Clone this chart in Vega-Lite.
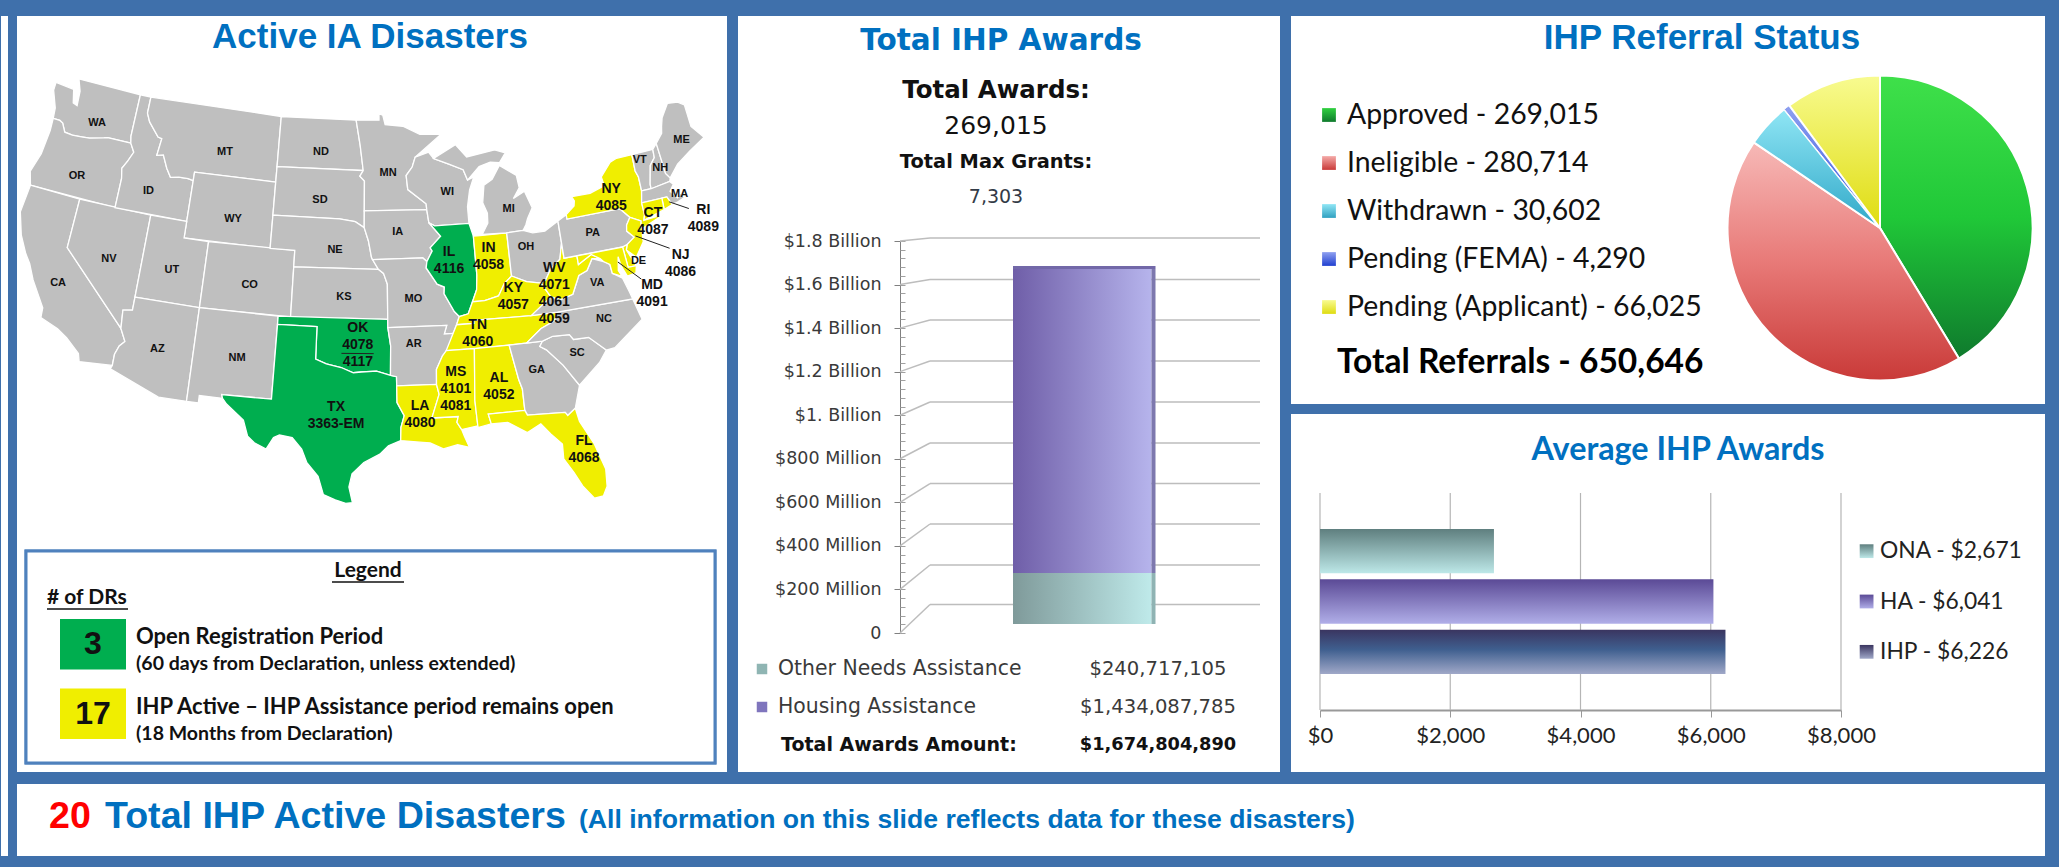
{"$schema":"https://vega.github.io/schema/vega-lite/v6.json","background":"#3f70ab","padding":{"left":0,"top":15,"right":15,"bottom":12},"autosize":{"type":"pad"},"config":{"view":{"stroke":null},"font":"Liberation Sans"},"datasets":{"grid":[{"amount":0,"wall":130900000},{"amount":200000000,"wall":312200000},{"amount":400000000,"wall":500500000},{"amount":600000000,"wall":686000000},{"amount":800000000,"wall":872400000},{"amount":1000000000,"wall":1060700000},{"amount":1200000000,"wall":1249000000},{"amount":1400000000,"wall":1437200000},{"amount":1600000000,"wall":1622800000},{"amount":1800000000,"wall":1813800000}],"awards":[{"assistance":"Other Needs Assistance","start":0,"end":240717105},{"assistance":"Housing Assistance","start":240717105,"end":1674804890}],"avg":[{"award":"ONA","amount":2671,"label":"ONA - $2,671"},{"award":"HA","amount":6041,"label":"HA - $6,041"},{"award":"IHP","amount":6226,"label":"IHP - $6,226"}],"referrals":[{"status":"Approved","referrals":269015,"label":"Approved - 269,015"},{"status":"Ineligible","referrals":280714,"label":"Ineligible - 280,714"},{"status":"Withdrawn","referrals":30602,"label":"Withdrawn - 30,602"},{"status":"Pending (FEMA)","referrals":4290,"label":"Pending (FEMA) - 4,290"},{"status":"Pending (Applicant)","referrals":66025,"label":"Pending (Applicant) - 66,025"}]},"spacing":9,"resolve":{"scale":{"color":"independent","size":"independent"}},"hconcat":[
{"width":7,"height":840,"view":{"fill":"white","stroke":null},"data":{"values":[{"e":0}]},"mark":{"type":"rule","opacity":0},"encoding":{}},
{"spacing":12,"resolve":{"scale":{"color":"independent","size":"independent"}},"vconcat":[{"spacing":11,"resolve":{"scale":{"color":"independent","size":"independent"}},"hconcat":[
{"spacing":0,"bounds":"flush","resolve":{"scale":{"color":"independent","size":"independent"}},"vconcat":[
{"width":710,"height":60,"view":{"fill":"white","stroke":null},"data":{"values":[{"t":"Active IA Disasters"}]},"mark":{"type":"text","font":"Liberation Sans","fontWeight":"bold","fontSize":35,"color":"#0070c0","dx":-2,"dy":-9},"encoding":{"text":{"field":"t"}}},
{"width":710,"height":465,"view":{"fill":"white","stroke":null},"projection":{"type":"albers","scale":948,"translate":[345,215]},"layer":[
{"data":{"values":[
{"type":"Feature","properties":{"id":"WA","status":"None"},"geometry":{"type":"Polygon","coordinates":[[[-124.7,48.4],[-123,48.3],[-122.7,47.5],[-122.3,47.4],[-122.4,48.3],[-122.8,49],[-117.03,49],[-117.04,46.42],[-116.92,46],[-118.98,46],[-119.3,45.93],[-120.5,45.7],[-121.2,45.65],[-122,45.6],[-122.7,45.65],[-123.1,46.15],[-123.4,46.25],[-124,46.25],[-124.1,46.9],[-124.7,47.9],[-124.7,48.4]]]}},
{"type":"Feature","properties":{"id":"OR","status":"None"},"geometry":{"type":"Polygon","coordinates":[[[-124,46.25],[-123.4,46.25],[-123.1,46.15],[-122.7,45.65],[-122,45.6],[-121.2,45.65],[-120.5,45.7],[-119.3,45.93],[-118.98,46],[-116.92,46],[-116.5,45.5],[-116.85,44.9],[-117.2,44.4],[-117.03,43.8],[-117.03,42],[-124.2,42],[-124.55,42.8],[-124.1,44],[-123.95,45.5],[-124,46.25]]]}},
{"type":"Feature","properties":{"id":"CA","status":"None"},"geometry":{"type":"Polygon","coordinates":[[[-124.2,42],[-120,42],[-120,39],[-114.63,35],[-114.15,34.27],[-114.5,33.95],[-114.72,33.4],[-114.72,32.72],[-117.12,32.53],[-117.3,33],[-118.4,33.75],[-119.2,34.15],[-120.6,34.55],[-120.65,35.15],[-121.9,36.6],[-122.5,37.5],[-123,38],[-123.75,39],[-124.35,40.3],[-124.2,42]]]}},
{"type":"Feature","properties":{"id":"NV","status":"None"},"geometry":{"type":"Polygon","coordinates":[[[-120,42],[-114.04,42],[-114.04,36.2],[-114.75,36.1],[-114.63,35],[-120,39],[-120,42]]]}},
{"type":"Feature","properties":{"id":"ID","status":"None"},"geometry":{"type":"Polygon","coordinates":[[[-117.03,49],[-116.05,49],[-116.05,48],[-115.7,47.5],[-114.7,46.7],[-114.35,46.65],[-114.5,45.6],[-113.95,45.7],[-113.45,44.95],[-113,44.45],[-112.3,44.55],[-111.5,44.55],[-111.05,44.48],[-111.05,42],[-117.03,42],[-117.03,43.8],[-117.2,44.4],[-116.85,44.9],[-116.5,45.5],[-116.92,46],[-117.04,46.42],[-117.03,49]]]}},
{"type":"Feature","properties":{"id":"MT","status":"None"},"geometry":{"type":"Polygon","coordinates":[[[-116.05,49],[-104.05,49],[-104.05,45],[-111.05,45],[-111.05,44.48],[-111.5,44.55],[-112.3,44.55],[-113,44.45],[-113.45,44.95],[-113.95,45.7],[-114.5,45.6],[-114.35,46.65],[-114.7,46.7],[-115.7,47.5],[-116.05,48],[-116.05,49]]]}},
{"type":"Feature","properties":{"id":"WY","status":"None"},"geometry":{"type":"Polygon","coordinates":[[[-111.05,45],[-104.05,45],[-104.05,41],[-111.05,41],[-111.05,45]]]}},
{"type":"Feature","properties":{"id":"UT","status":"None"},"geometry":{"type":"Polygon","coordinates":[[[-114.04,42],[-111.05,42],[-111.05,41],[-109.05,41],[-109.05,37],[-114.04,37],[-114.04,42]]]}},
{"type":"Feature","properties":{"id":"CO","status":"None"},"geometry":{"type":"Polygon","coordinates":[[[-109.05,41],[-102.05,41],[-102.05,37],[-109.05,37],[-109.05,41]]]}},
{"type":"Feature","properties":{"id":"AZ","status":"None"},"geometry":{"type":"Polygon","coordinates":[[[-114.04,37],[-109.05,37],[-109.05,31.33],[-111.07,31.33],[-114.81,32.5],[-114.72,32.72],[-114.72,33.4],[-114.5,33.95],[-114.15,34.27],[-114.63,35],[-114.75,36.1],[-114.04,36.2],[-114.04,37]]]}},
{"type":"Feature","properties":{"id":"NM","status":"None"},"geometry":{"type":"Polygon","coordinates":[[[-109.05,37],[-103,37],[-103.04,32],[-106.62,32],[-106.53,31.78],[-108.2,31.78],[-108.2,31.33],[-109.05,31.33],[-109.05,37]]]}},
{"type":"Feature","properties":{"id":"ND","status":"None"},"geometry":{"type":"Polygon","coordinates":[[[-104.05,49],[-97.23,49],[-96.85,47.5],[-96.56,45.94],[-104.05,45.94],[-104.05,49]]]}},
{"type":"Feature","properties":{"id":"SD","status":"None"},"geometry":{"type":"Polygon","coordinates":[[[-104.05,45.94],[-96.56,45.94],[-96.85,45.6],[-96.45,45.3],[-96.45,43.5],[-96.45,42.5],[-97.2,42.85],[-98.5,43],[-104.05,43],[-104.05,45.94]]]}},
{"type":"Feature","properties":{"id":"NE","status":"None"},"geometry":{"type":"Polygon","coordinates":[[[-104.05,43],[-98.5,43],[-97.2,42.85],[-96.45,42.5],[-96.1,41.7],[-95.85,40.7],[-95.31,40],[-102.05,40],[-102.05,41],[-104.05,41],[-104.05,43]]]}},
{"type":"Feature","properties":{"id":"KS","status":"None"},"geometry":{"type":"Polygon","coordinates":[[[-102.05,40],[-95.31,40],[-94.9,39.75],[-94.61,39.1],[-94.62,37],[-102.05,37],[-102.05,40]]]}},
{"type":"Feature","properties":{"id":"OK","status":"Open Registration Period"},"geometry":{"type":"Polygon","coordinates":[[[-103,37],[-94.62,37],[-94.62,36.5],[-94.43,35.4],[-94.48,33.64],[-95.5,33.9],[-96.6,33.85],[-97.2,33.8],[-98.1,34.1],[-99.2,34.3],[-100,34.56],[-100,36.5],[-103,36.5],[-103,37]]]}},
{"type":"Feature","properties":{"id":"TX","status":"Open Registration Period"},"geometry":{"type":"Polygon","coordinates":[[[-106.62,32],[-103.04,32],[-103,36.5],[-100,36.5],[-100,34.56],[-99.2,34.3],[-98.1,34.1],[-97.2,33.8],[-96.6,33.85],[-95.5,33.9],[-94.48,33.64],[-94.04,33.55],[-94.04,33],[-94.04,32],[-93.55,31.2],[-93.8,30.5],[-93.84,29.7],[-94.7,29.4],[-95.3,28.9],[-96.4,28.4],[-97.2,27.7],[-97.4,26.9],[-97.15,25.95],[-97.6,25.9],[-98.3,26.1],[-99.1,26.4],[-99.5,27.5],[-100.3,28.3],[-100.7,29.1],[-101.4,29.77],[-102.3,29.88],[-102.7,29.7],[-103.15,28.98],[-104,29.3],[-104.5,29.65],[-104.9,30.6],[-106.2,31.46],[-106.53,31.78],[-106.62,32]]]}},
{"type":"Feature","properties":{"id":"MN","status":"None"},"geometry":{"type":"Polygon","coordinates":[[[-97.23,49],[-95.15,49],[-95.15,49.38],[-94.8,49.3],[-94.6,48.72],[-93,48.6],[-91.5,48.07],[-89.6,48],[-92,46.7],[-92.3,46.1],[-92.85,45.6],[-92.75,44.75],[-91.25,43.85],[-91.22,43.5],[-96.45,43.5],[-96.45,45.3],[-96.85,45.6],[-96.56,45.94],[-96.85,47.5],[-97.23,49]]]}},
{"type":"Feature","properties":{"id":"IA","status":"None"},"geometry":{"type":"Polygon","coordinates":[[[-96.45,43.5],[-91.22,43.5],[-91.1,42.7],[-90.2,41.85],[-91.1,41.2],[-90.95,41],[-91.42,40.38],[-91.73,40.61],[-95.77,40.58],[-95.85,40.7],[-96.1,41.7],[-96.45,42.5],[-96.45,43.5]]]}},
{"type":"Feature","properties":{"id":"MO","status":"None"},"geometry":{"type":"Polygon","coordinates":[[[-95.77,40.58],[-91.73,40.61],[-91.42,40.38],[-91.5,40],[-90.7,39],[-90.15,38.8],[-90.2,38.4],[-89.5,37.3],[-89.15,36.98],[-89.4,36.5],[-89.7,36],[-90.37,36],[-90.15,36.5],[-94.62,36.5],[-94.62,37],[-94.61,39.1],[-94.9,39.75],[-95.31,40],[-95.77,40.58]]]}},
{"type":"Feature","properties":{"id":"AR","status":"None"},"geometry":{"type":"Polygon","coordinates":[[[-94.62,36.5],[-90.15,36.5],[-90.37,36],[-89.7,36],[-90.1,35.1],[-90.6,34.7],[-91.1,33.9],[-91.15,33],[-94.04,33],[-94.04,33.55],[-94.48,33.64],[-94.43,35.4],[-94.62,36.5]]]}},
{"type":"Feature","properties":{"id":"LA","status":"IHP Active"},"geometry":{"type":"Polygon","coordinates":[[[-94.04,33],[-91.15,33],[-91,32.4],[-91.6,31],[-89.73,31],[-89.85,30.65],[-89.55,30.2],[-89.4,29.8],[-89.1,29.1],[-89.9,29.3],[-90.9,29.1],[-91.8,29.5],[-92.3,29.55],[-93.84,29.7],[-93.8,30.5],[-93.55,31.2],[-94.04,32],[-94.04,33]]]}},
{"type":"Feature","properties":{"id":"WI","status":"None"},"geometry":{"type":"Polygon","coordinates":[[[-92,46.7],[-90.8,46.95],[-90.4,46.55],[-89.1,46.15],[-87.9,45.75],[-87.6,45.1],[-87.05,45.25],[-87.5,44.5],[-87.8,43.5],[-87.8,42.5],[-90.64,42.5],[-91.1,42.7],[-91.22,43.5],[-91.25,43.85],[-92.75,44.75],[-92.85,45.6],[-92.3,46.1],[-92,46.7]]]}},
{"type":"Feature","properties":{"id":"IL","status":"Open Registration Period"},"geometry":{"type":"Polygon","coordinates":[[[-90.64,42.5],[-87.8,42.5],[-87.53,41.72],[-87.53,39.35],[-87.65,38.5],[-88.05,37.8],[-88.45,37.1],[-89.15,36.98],[-89.5,37.3],[-90.2,38.4],[-90.15,38.8],[-90.7,39],[-91.5,40],[-91.42,40.38],[-90.95,41],[-91.1,41.2],[-90.2,41.85],[-91.1,42.7],[-90.64,42.5]]]}},
{"type":"Feature","properties":{"id":"IN","status":"IHP Active"},"geometry":{"type":"Polygon","coordinates":[[[-87.53,41.72],[-87,41.7],[-84.8,41.7],[-84.82,39.1],[-85.45,38.7],[-86,38],[-87.1,37.8],[-88.05,37.8],[-87.65,38.5],[-87.53,39.35],[-87.53,41.72]]]}},
{"type":"Feature","properties":{"id":"MI","status":"None"},"geometry":{"type":"MultiPolygon","coordinates":[[[[-86.25,44.7],[-85.5,45],[-84.75,45.78],[-83.4,45.05],[-83.3,44.3],[-83.9,43.7],[-82.9,44.05],[-82.45,43],[-82.95,42.4],[-83.15,42.05],[-83.45,41.72],[-84.8,41.7],[-86.8,41.76],[-86.25,42.4],[-86.2,43],[-86.5,43.65],[-86.25,44.7]]],[[[-90.4,46.55],[-88.4,47.3],[-87.5,46.5],[-85,46.75],[-84.1,46.5],[-84.7,45.95],[-85.5,46.05],[-86.5,45.85],[-87.6,45.1],[-87.9,45.75],[-89.1,46.15],[-90.4,46.55]]]]}},
{"type":"Feature","properties":{"id":"OH","status":"None"},"geometry":{"type":"Polygon","coordinates":[[[-84.8,41.7],[-83.45,41.72],[-82.7,41.5],[-81.7,41.5],[-80.52,41.98],[-80.52,40.64],[-80.85,39.7],[-81.7,39.2],[-82.2,38.6],[-82.6,38.45],[-83.7,38.65],[-84.82,39.1],[-84.8,41.7]]]}},
{"type":"Feature","properties":{"id":"KY","status":"IHP Active"},"geometry":{"type":"Polygon","coordinates":[[[-84.82,39.1],[-83.7,38.65],[-82.6,38.45],[-82,37.55],[-83.68,36.6],[-88.07,36.68],[-88.07,36.5],[-89.4,36.5],[-89.15,36.98],[-88.45,37.1],[-88.05,37.8],[-87.1,37.8],[-86,38],[-85.45,38.7],[-84.82,39.1]]]}},
{"type":"Feature","properties":{"id":"TN","status":"IHP Active"},"geometry":{"type":"Polygon","coordinates":[[[-89.4,36.5],[-88.07,36.5],[-88.07,36.68],[-83.68,36.6],[-81.68,36.59],[-82,36.1],[-83.1,35.75],[-84.3,35],[-88.2,35],[-90.3,35],[-89.7,36],[-89.4,36.5]]]}},
{"type":"Feature","properties":{"id":"MS","status":"IHP Active"},"geometry":{"type":"Polygon","coordinates":[[[-90.3,35],[-88.2,35],[-88.47,31.9],[-88.4,30.35],[-89.55,30.2],[-89.85,30.65],[-89.73,31],[-91.6,31],[-91,32.4],[-91.15,33],[-91.1,33.9],[-90.6,34.7],[-90.3,35]]]}},
{"type":"Feature","properties":{"id":"AL","status":"IHP Active"},"geometry":{"type":"Polygon","coordinates":[[[-88.2,35],[-85.6,35],[-85.18,32.87],[-85,32.3],[-85,31],[-87.6,31],[-87.45,30.4],[-88.4,30.25],[-88.47,31.9],[-88.2,35]]]}},
{"type":"Feature","properties":{"id":"GA","status":"None"},"geometry":{"type":"Polygon","coordinates":[[[-85.6,35],[-83.1,35],[-83.35,34.7],[-82.9,34.45],[-81.85,33.4],[-80.9,32.05],[-81.45,30.72],[-82.05,30.36],[-82.2,30.57],[-84.86,30.7],[-85,31],[-85,32.3],[-85.18,32.87],[-85.6,35]]]}},
{"type":"Feature","properties":{"id":"FL","status":"IHP Active"},"geometry":{"type":"Polygon","coordinates":[[[-87.6,31],[-85,31],[-84.86,30.7],[-82.2,30.57],[-82.05,30.36],[-81.45,30.72],[-81.3,29.9],[-80.55,28.45],[-80.05,26.8],[-80.15,25.75],[-80.5,25.2],[-81.1,25.15],[-81.75,26],[-82.2,26.9],[-82.75,27.8],[-82.7,28.7],[-83.4,29.4],[-84,30.08],[-85,29.65],[-85.6,30],[-86.3,30.4],[-87.45,30.4],[-87.6,31]]]}},
{"type":"Feature","properties":{"id":"SC","status":"None"},"geometry":{"type":"Polygon","coordinates":[[[-83.1,35],[-82.3,35.2],[-81.05,35.15],[-80.8,34.82],[-79.67,34.8],[-78.55,33.86],[-79.2,33.2],[-80.9,32.05],[-81.85,33.4],[-82.9,34.45],[-83.35,34.7],[-83.1,35]]]}},
{"type":"Feature","properties":{"id":"NC","status":"None"},"geometry":{"type":"Polygon","coordinates":[[[-81.68,36.59],[-75.87,36.55],[-75.5,35.25],[-76.5,34.7],[-77.9,33.9],[-78.55,33.86],[-79.67,34.8],[-80.8,34.82],[-81.05,35.15],[-82.3,35.2],[-83.1,35],[-84.3,35],[-83.1,35.75],[-82,36.1],[-81.68,36.59]]]}},
{"type":"Feature","properties":{"id":"VA","status":"None"},"geometry":{"type":"Polygon","coordinates":[[[-83.68,36.6],[-82,37.55],[-81.3,37.3],[-80.3,37.5],[-79.6,38.55],[-78.9,38.75],[-78.35,39.4],[-77.5,39.1],[-77.05,38.85],[-77,38.3],[-76.3,37.9],[-76,37],[-75.87,36.55],[-81.68,36.59],[-83.68,36.6]]]}},
{"type":"Feature","properties":{"id":"WV","status":"IHP Active"},"geometry":{"type":"Polygon","coordinates":[[[-80.52,40.64],[-80.52,39.72],[-79.48,39.72],[-79.48,39.2],[-78.35,39.65],[-77.72,39.32],[-78.35,39.4],[-78.9,38.75],[-79.6,38.55],[-80.3,37.5],[-81.3,37.3],[-82,37.55],[-82.6,38.45],[-82.2,38.6],[-81.7,39.2],[-80.85,39.7],[-80.52,40.64]]]}},
{"type":"Feature","properties":{"id":"PA","status":"None"},"geometry":{"type":"Polygon","coordinates":[[[-80.52,41.98],[-79.76,42.27],[-79.76,42],[-75.35,42],[-74.7,41.36],[-75.1,40.95],[-75.2,40.6],[-74.72,40.15],[-75.4,39.8],[-75.79,39.72],[-80.52,39.72],[-80.52,40.64],[-80.52,41.98]]]}},
{"type":"Feature","properties":{"id":"NY","status":"IHP Active"},"geometry":{"type":"Polygon","coordinates":[[[-79.76,42.27],[-79,42.7],[-78.9,43],[-79.05,43.27],[-77.5,43.27],[-76.2,43.55],[-76.3,44.1],[-75.3,44.85],[-74.7,45],[-73.35,45],[-73.4,44],[-73.25,43.6],[-73.27,42.75],[-73.5,42.05],[-73.5,41.3],[-73.65,41],[-72,41.05],[-73.9,40.55],[-74,40.7],[-73.9,41],[-74.7,41.36],[-75.35,42],[-79.76,42],[-79.76,42.27]]]}},
{"type":"Feature","properties":{"id":"VT","status":"None"},"geometry":{"type":"Polygon","coordinates":[[[-73.35,45],[-71.5,45],[-71.55,44.5],[-72.05,44.1],[-72.45,43],[-72.46,42.73],[-73.27,42.75],[-73.25,43.6],[-73.4,44],[-73.35,45]]]}},
{"type":"Feature","properties":{"id":"NH","status":"None"},"geometry":{"type":"Polygon","coordinates":[[[-71.5,45],[-71.08,45.3],[-70.98,43.4],[-70.7,43.07],[-70.82,42.87],[-72.46,42.73],[-72.45,43],[-72.05,44.1],[-71.55,44.5],[-71.5,45]]]}},
{"type":"Feature","properties":{"id":"ME","status":"None"},"geometry":{"type":"Polygon","coordinates":[[[-71.08,45.3],[-70.4,45.8],[-70.25,46.2],[-70,46.7],[-69.2,47.45],[-68.3,47.35],[-67.8,47.07],[-67.8,45.7],[-67,44.85],[-68.5,44.3],[-69.8,43.75],[-70.7,43.07],[-70.98,43.4],[-71.08,45.3]]]}},
{"type":"Feature","properties":{"id":"MA","status":"None"},"geometry":{"type":"Polygon","coordinates":[[[-73.27,42.75],[-72.46,42.73],[-70.82,42.87],[-70.6,42.65],[-71,42.3],[-70.55,41.8],[-70.2,42.05],[-70,41.7],[-70.65,41.55],[-71.12,41.5],[-71.38,42.02],[-71.8,42.02],[-73.5,42.05],[-73.27,42.75]]]}},
{"type":"Feature","properties":{"id":"RI","status":"IHP Active"},"geometry":{"type":"Polygon","coordinates":[[[-71.8,42.02],[-71.38,42.02],[-71.12,41.5],[-71.85,41.32],[-71.8,42.02]]]}},
{"type":"Feature","properties":{"id":"CT","status":"IHP Active"},"geometry":{"type":"Polygon","coordinates":[[[-73.5,42.05],[-71.8,42.02],[-71.85,41.32],[-73.65,41],[-73.5,41.3],[-73.5,42.05]]]}},
{"type":"Feature","properties":{"id":"NJ","status":"IHP Active"},"geometry":{"type":"Polygon","coordinates":[[[-74.7,41.36],[-73.9,41],[-74,40.7],[-74,40.45],[-74.1,39.75],[-74.9,38.95],[-75.55,39.5],[-75.4,39.8],[-74.72,40.15],[-75.2,40.6],[-75.1,40.95],[-74.7,41.36]]]}},
{"type":"Feature","properties":{"id":"DE","status":"IHP Active"},"geometry":{"type":"Polygon","coordinates":[[[-75.79,39.72],[-75.4,39.8],[-75.55,39.5],[-75.05,38.45],[-75.7,38.46],[-75.79,39.72]]]}},
{"type":"Feature","properties":{"id":"MD","status":"IHP Active"},"geometry":{"type":"Polygon","coordinates":[[[-79.48,39.72],[-75.79,39.72],[-75.7,38.46],[-75.05,38.45],[-75.2,38.03],[-75.9,37.95],[-76.2,38.6],[-76.3,39.2],[-76.5,38.4],[-76.3,38],[-77,38.3],[-77.05,38.85],[-77.5,39.1],[-77.72,39.32],[-78.35,39.65],[-79.48,39.2],[-79.48,39.72]]]}}
]},"mark":{"type":"geoshape","stroke":"white","strokeWidth":1.3},"encoding":{"color":{"field":"properties.status","type":"nominal","scale":{"domain":["None","Open Registration Period","IHP Active"],"range":["#bfbfbf","#00ae4f","#f0ee00"]},"legend":null}}},
{"data":{"values":[{"a":-71.3,"b":41.7,"c":-69.9,"d":41.0},{"a":-74.6,"b":40.2,"c":-72.2,"d":39.0},{"a":-76.4,"b":38.9,"c":-74.9,"d":37.6},{"a":-98.1,"b":34.95,"c":-95.7,"d":34.95}]},"mark":{"type":"rule","color":"#222222","strokeWidth":1},"encoding":{"longitude":{"field":"a","type":"quantitative"},"latitude":{"field":"b","type":"quantitative"},"longitude2":{"field":"c"},"latitude2":{"field":"d"}}},
{"data":{"values":[
{"t":"WA","lon":-120.2,"lat":46.7,"k":"p"},{"t":"OR","lon":-120.7,"lat":43.3,"k":"p"},{"t":"CA","lon":-120,"lat":36.8,"k":"p"},{"t":"NV","lon":-116.6,"lat":38.9,"k":"p"},{"t":"ID","lon":-114.6,"lat":43.4,"k":"p"},{"t":"MT","lon":-108.7,"lat":46.5,"k":"p"},{"t":"WY","lon":-107.3,"lat":42.5,"k":"p"},{"t":"UT","lon":-111.6,"lat":39,"k":"p"},{"t":"CO","lon":-105.4,"lat":38.7,"k":"p"},{"t":"AZ","lon":-111.7,"lat":34.2,"k":"p"},{"t":"NM","lon":-105.8,"lat":34.3,"k":"p"},{"t":"ND","lon":-100.3,"lat":47,"k":"p"},{"t":"SD","lon":-100.2,"lat":44.1,"k":"p"},{"t":"NE","lon":-98.8,"lat":41.1,"k":"p"},{"t":"KS","lon":-98,"lat":38.3,"k":"p"},{"t":"MN","lon":-94.4,"lat":45.8,"k":"p"},{"t":"IA","lon":-93.7,"lat":42.2,"k":"p"},{"t":"MO","lon":-92.6,"lat":38.2,"k":"p"},{"t":"AR","lon":-92.7,"lat":35.5,"k":"p"},{"t":"WI","lon":-89.4,"lat":44.5,"k":"p"},{"t":"MI","lon":-84.4,"lat":43.1,"k":"p"},{"t":"OH","lon":-83.4,"lat":40.7,"k":"p"},{"t":"GA","lon":-83.8,"lat":33.3,"k":"p"},{"t":"SC","lon":-80.7,"lat":34,"k":"p"},{"t":"NC","lon":-78.3,"lat":35.7,"k":"p"},{"t":"VA","lon":-78.3,"lat":37.9,"k":"p"},{"t":"PA","lon":-77.9,"lat":40.9,"k":"p"},{"t":"ME","lon":-68.9,"lat":45.1,"k":"p"},{"t":"VT","lon":-72.8,"lat":44.6,"k":"p"},{"t":"NH","lon":-71.3,"lat":43.8,"k":"p"},{"t":"MA","lon":-70.3,"lat":42,"k":"p"},{"t":"DE","lon":-74.8,"lat":38.7,"k":"p"},
{"t":"OK\n4078\n4117","lon":-96.9,"lat":36.5,"k":"a"},{"t":"TX\n3363-EM","lon":-98.4,"lat":31.7,"k":"a"},{"t":"LA\n4080","lon":-92.4,"lat":31.75,"k":"a"},{"t":"IL\n4116","lon":-89.6,"lat":40.85,"k":"a"},{"t":"IN\n4058","lon":-86.4,"lat":40.9,"k":"a"},{"t":"KY\n4057","lon":-84.8,"lat":38.35,"k":"a"},{"t":"TN\n4060","lon":-87.8,"lat":36.4,"k":"a"},{"t":"MS\n4101\n4081","lon":-89.7,"lat":33.65,"k":"a"},{"t":"AL\n4052","lon":-86.6,"lat":33.1,"k":"a"},{"t":"FL\n4068","lon":-81.2,"lat":28.7,"k":"a"},{"t":"WV\n4071\n4061\n4059","lon":-81.4,"lat":39.25,"k":"a"},{"t":"NY\n4085","lon":-75.7,"lat":43.25,"k":"a"},{"t":"CT\n4087","lon":-72.8,"lat":41.3,"k":"a"},{"t":"NJ\n4086","lon":-71.5,"lat":38.45,"k":"a"},{"t":"MD\n4091","lon":-74.2,"lat":37.1,"k":"a"},{"t":"RI\n4089","lon":-68.8,"lat":40.7,"k":"a"}
]},"mark":{"type":"text","font":"Liberation Sans","fontWeight":"bold","lineBreak":"\n","lineHeight":17,"color":"#111111"},"encoding":{"longitude":{"field":"lon","type":"quantitative"},"latitude":{"field":"lat","type":"quantitative"},"text":{"field":"t"},"size":{"field":"k","type":"nominal","scale":{"domain":["p","a"],"range":[11,14]},"legend":null}}}
]},
{"width":710,"height":231,"view":{"fill":"white","stroke":null},"resolve":{"scale":{"y":"independent"}},"data":{"values":[{"period":"Open Registration Period","dr":"3","note":"(60 days from Declaration, unless extended)"},{"period":"IHP Active – IHP Assistance period remains open","dr":"17","note":"(18 Months from Declaration)"}]},"layer":[
{"mark":{"type":"rect","fill":"white","stroke":"#4f81bd","strokeWidth":3},"encoding":{"x":{"datum":10,"type":"quantitative","scale":{"domain":[0,711],"range":[-1,710],"nice":false},"axis":null},"x2":{"datum":699},"y":{"datum":10,"type":"quantitative","scale":{"domain":[0,231],"range":[0,231],"nice":false},"axis":null},"y2":{"datum":222}}},
{"mark":{"type":"rect"},"encoding":{"x":{"datum":44,"type":"quantitative","axis":null},"x2":{"datum":110},"y":{"field":"period","type":"nominal","sort":null,"scale":{"type":"band","range":[78,198],"paddingInner":0.273,"paddingOuter":0},"axis":null},"color":{"field":"period","type":"nominal","sort":null,"scale":{"range":["#00ae4f","#f0ee00"]},"legend":null}}},
{"mark":{"type":"text","font":"Liberation Sans","fontWeight":"bold","fontSize":32,"color":"#111111"},"encoding":{"x":{"datum":77,"type":"quantitative","axis":null},"y":{"field":"period","type":"nominal","sort":null,"scale":{"type":"band","range":[78,198],"paddingInner":0.273,"paddingOuter":0},"axis":null},"text":{"field":"dr"}}},
{"mark":{"type":"text","font":"Lato","fontWeight":"bold","fontSize":22,"align":"left","dy":-7,"color":"#111111"},"encoding":{"x":{"datum":120,"type":"quantitative","axis":null},"y":{"field":"period","type":"nominal","sort":null,"scale":{"type":"band","range":[78,198],"paddingInner":0.273,"paddingOuter":0},"axis":null},"text":{"field":"period"}}},
{"mark":{"type":"text","font":"Lato","fontWeight":"bold","fontSize":19.5,"align":"left","dy":20,"color":"#111111"},"encoding":{"x":{"datum":120,"type":"quantitative","axis":null},"y":{"field":"period","type":"nominal","sort":null,"scale":{"type":"band","range":[78,198],"paddingInner":0.273,"paddingOuter":0},"axis":null},"text":{"field":"note"}}},
{"data":{"values":[{"h":"Legend"}]},"mark":{"type":"text","font":"Lato","fontWeight":"bold","fontSize":21,"color":"#111111"},"encoding":{"x":{"datum":352,"type":"quantitative","axis":null},"y":{"datum":30,"type":"quantitative","scale":{"domain":[0,231],"range":[0,231],"nice":false},"axis":null},"text":{"field":"h"}}},
{"data":{"values":[{"h":"# of DRs"}]},"mark":{"type":"text","font":"Lato","fontWeight":"bold","fontSize":21,"align":"left","color":"#111111"},"encoding":{"x":{"datum":31,"type":"quantitative","axis":null},"y":{"datum":57,"type":"quantitative","scale":{"domain":[0,231],"range":[0,231],"nice":false},"axis":null},"text":{"field":"h"}}},
{"data":{"values":[{"a":316,"b":388,"c":41},{"a":31,"b":112,"c":68}]},"mark":{"type":"rule","color":"#111111","strokeWidth":1.5},"encoding":{"x":{"field":"a","type":"quantitative","axis":null},"x2":{"field":"b"},"y":{"field":"c","type":"quantitative","scale":{"domain":[0,231],"range":[0,231],"nice":false},"axis":null}}}
]}
]},
{"spacing":0,"bounds":"flush","resolve":{"scale":{"color":"independent","size":"independent"}},"vconcat":[
{"width":542,"height":200,"view":{"fill":"white","stroke":null},"data":{"values":[{"a":"Total IHP Awards","b":"Total Awards:","c":"269,015","d":"Total Max Grants:","e":"7,303"}]},"layer":[
{"mark":{"type":"text","font":"DejaVu Sans","fontWeight":"bold","fontSize":29.5,"color":"#0070c0"},"encoding":{"x":{"datum":263,"type":"quantitative","scale":{"domain":[0,542],"range":[0,542],"nice":false},"axis":null},"y":{"datum":25,"type":"quantitative","scale":{"domain":[0,200],"range":[0,200],"nice":false},"axis":null},"text":{"field":"a"}}},
{"mark":{"type":"text","font":"DejaVu Sans","fontWeight":"bold","fontSize":24.5,"color":"#111111"},"encoding":{"x":{"datum":258,"type":"quantitative","axis":null},"y":{"datum":74.5,"type":"quantitative","axis":null},"text":{"field":"b"}}},
{"mark":{"type":"text","font":"DejaVu Sans","fontSize":25,"color":"#111111"},"encoding":{"x":{"datum":258,"type":"quantitative","axis":null},"y":{"datum":110,"type":"quantitative","axis":null},"text":{"field":"c"}}},
{"mark":{"type":"text","font":"DejaVu Sans","fontWeight":"bold","fontSize":19.4,"color":"#111111"},"encoding":{"x":{"datum":258,"type":"quantitative","axis":null},"y":{"datum":146,"type":"quantitative","axis":null},"text":{"field":"d"}}},
{"mark":{"type":"text","font":"DejaVu Sans","fontSize":19,"color":"#333b47"},"encoding":{"x":{"datum":258,"type":"quantitative","axis":null},"y":{"datum":181,"type":"quantitative","axis":null},"text":{"field":"e"}}}
]},
{"width":542,"height":440,"view":{"fill":"white","stroke":null},"resolve":{"scale":{"y":"independent"},"axis":{"y":"independent"}},"layer":[
{"data":{"name":"grid"},"mark":{"type":"rule","color":"#bdbdbd","strokeWidth":1.5},"encoding":{"x":{"datum":162,"type":"quantitative","scale":{"domain":[0,542],"range":[0,542],"nice":false},"axis":null},"x2":{"datum":192},"y":{"field":"amount","type":"quantitative","scale":{"domain":[0,1800000000],"range":[417,25],"nice":false},"axis":{"orient":"left","offset":-162,"title":null,"grid":false,"values":[0,200000000,400000000,600000000,800000000,1000000000,1200000000,1400000000,1600000000,1800000000],"labelExpr":"datum.value==0?'0':datum.value==1000000000?'$1. Billion':datum.value>1000000000?'$'+format(datum.value/1000000000,'.1f')+' Billion':'$'+(datum.value/1000000)+' Million'","labelFont":"DejaVu Sans","labelFontSize":17.5,"labelColor":"#3a3a3a","labelPadding":13,"tickColor":"#808080","domainColor":"#808080","tickSize":6}},"y2":{"field":"wall"}}},
{"data":{"name":"grid"},"mark":{"type":"rule","color":"#bdbdbd","strokeWidth":1.5},"encoding":{"x":{"datum":192,"type":"quantitative","axis":null},"x2":{"datum":522},"y":{"field":"wall","type":"quantitative","scale":{"domain":[0,1800000000],"range":[417,25],"nice":false},"axis":null}}},
{"mark":{"type":"rule","color":"#808080","strokeWidth":1.5},"encoding":{"x":{"datum":162,"type":"quantitative","axis":null},"x2":{"datum":518},"y":{"datum":0,"type":"quantitative","scale":{"domain":[0,1800000000],"range":[417,25],"nice":false},"axis":{"orient":"left","offset":-167,"title":null,"grid":false,"labels":false,"domain":false,"tickSize":5,"tickColor":"#a0a0a0","values":[0,40000000,80000000,120000000,160000000,200000000,240000000,280000000,320000000,360000000,400000000,440000000,480000000,520000000,560000000,600000000,640000000,680000000,720000000,760000000,800000000,840000000,880000000,920000000,960000000,1000000000,1040000000,1080000000,1120000000,1160000000,1200000000,1240000000,1280000000,1320000000,1360000000,1400000000,1440000000,1480000000,1520000000,1560000000,1600000000,1640000000,1680000000,1720000000,1760000000,1800000000]}}}},
{"mark":{"type":"rule","color":"#808080","strokeWidth":1.5},"encoding":{"x":{"datum":518,"type":"quantitative","axis":null},"x2":{"datum":522},"y":{"datum":0,"type":"quantitative","scale":{"domain":[0,1800000000],"range":[417,25],"nice":false},"axis":null},"y2":{"datum":130900000}}},
{"data":{"name":"awards"},"transform":[{"filter":"datum.assistance=='Other Needs Assistance'"}],"mark":{"type":"rect","color":{"gradient":"linear","x1":0,"y1":0,"x2":1,"y2":0,"stops":[{"offset":0,"color":"#7f9a9a"},{"offset":1,"color":"#bfeaea"}]}},"encoding":{"x":{"datum":275,"type":"quantitative","axis":null},"x2":{"datum":413.5},"y":{"field":"start","type":"quantitative","scale":{"domain":[0,1800000000],"range":[408,26.4],"nice":false},"axis":null},"y2":{"field":"end"}}},
{"data":{"name":"awards"},"transform":[{"filter":"datum.assistance=='Housing Assistance'"}],"mark":{"type":"rect","color":{"gradient":"linear","x1":0,"y1":0,"x2":1,"y2":0,"stops":[{"offset":0,"color":"#6f5ea8"},{"offset":1,"color":"#b6b4ec"}]}},"encoding":{"x":{"datum":275,"type":"quantitative","axis":null},"x2":{"datum":413.5},"y":{"field":"start","type":"quantitative","scale":{"domain":[0,1800000000],"range":[408,26.4],"nice":false},"axis":null},"y2":{"field":"end"}}},
{"data":{"name":"awards"},"mark":{"type":"rect"},"encoding":{"x":{"datum":413.5,"type":"quantitative","axis":null},"x2":{"datum":417.5},"y":{"field":"start","type":"quantitative","scale":{"domain":[0,1800000000],"range":[408,26.4],"nice":false},"axis":null},"y2":{"field":"end"},"color":{"field":"assistance","type":"nominal","scale":{"domain":["Other Needs Assistance","Housing Assistance"],"range":["#8fb3b3","#7d78ae"]},"legend":null}}},
{"data":{"name":"awards"},"transform":[{"filter":"datum.assistance=='Housing Assistance'"}],"mark":{"type":"rule","color":"#7268a8","strokeWidth":3},"encoding":{"x":{"datum":275,"type":"quantitative","axis":null},"x2":{"datum":417.5},"y":{"field":"end","type":"quantitative","scale":{"domain":[0,1800000000],"range":[406.5,24.9],"nice":false},"axis":null}}}
]},
{"width":542,"height":116,"view":{"fill":"white","stroke":null},"data":{"values":[{"name":"Other Needs Assistance","amount":"$240,717,105"},{"name":"Housing Assistance","amount":"$1,434,087,785"},{"name":"Total Awards Amount:","amount":"$1,674,804,890"}]},"layer":[
{"transform":[{"filter":"datum.name!='Total Awards Amount:'"}],"mark":{"type":"square","size":110,"opacity":1},"encoding":{"x":{"datum":24,"type":"quantitative","scale":{"domain":[0,542],"range":[0,542],"nice":false},"axis":null},"y":{"field":"name","type":"nominal","sort":null,"scale":{"type":"point","padding":0,"domain":["Other Needs Assistance","Housing Assistance","Total Awards Amount:"],"range":[13,89]},"axis":null},"color":{"field":"name","type":"nominal","scale":{"domain":["Other Needs Assistance","Housing Assistance"],"range":["#8fb5b3","#7f75bd"]},"legend":null}}},
{"transform":[{"filter":"datum.name!='Total Awards Amount:'"}],"mark":{"type":"text","font":"DejaVu Sans","fontSize":20.4,"align":"left","color":"#3a3a3a"},"encoding":{"x":{"datum":40,"type":"quantitative","axis":null},"y":{"field":"name","type":"nominal","sort":null,"axis":null},"text":{"field":"name"}}},
{"transform":[{"filter":"datum.name!='Total Awards Amount:'"}],"mark":{"type":"text","font":"DejaVu Sans","fontSize":19.6,"color":"#3a3a3a"},"encoding":{"x":{"datum":420,"type":"quantitative","axis":null},"y":{"field":"name","type":"nominal","sort":null,"axis":null},"text":{"field":"amount"}}},
{"transform":[{"filter":"datum.name=='Total Awards Amount:'"}],"mark":{"type":"text","font":"DejaVu Sans","fontWeight":"bold","fontSize":19,"align":"left","color":"#111111"},"encoding":{"x":{"datum":43,"type":"quantitative","axis":null},"y":{"field":"name","type":"nominal","sort":null,"axis":null},"text":{"field":"name"}}},
{"transform":[{"filter":"datum.name=='Total Awards Amount:'"}],"mark":{"type":"text","font":"DejaVu Sans","fontWeight":"bold","fontSize":17.8,"color":"#111111"},"encoding":{"x":{"datum":420,"type":"quantitative","axis":null},"y":{"field":"name","type":"nominal","sort":null,"axis":null},"text":{"field":"amount"}}}
]}
]},
{"spacing":10,"resolve":{"scale":{"color":"independent","size":"independent"}},"vconcat":[
{"spacing":0,"bounds":"flush","hconcat":[
{"width":424,"height":388,"view":{"fill":"white","stroke":null},"resolve":{"scale":{"y":"independent"}},"data":{"name":"referrals"},"layer":[
{"mark":{"type":"text","font":"Lato","fontSize":28.4,"align":"left","color":"#111111"},"encoding":{"x":{"datum":56,"type":"quantitative","scale":{"domain":[0,424],"range":[0,424],"nice":false},"axis":null},"y":{"field":"status","type":"nominal","sort":null,"scale":{"type":"point","padding":0,"range":[99,291]},"axis":null},"text":{"field":"label"}}},
{"transform":[{"filter":"datum.status=='Approved'"}],"mark":{"type":"square","size":190,"opacity":1,"color":{"gradient":"linear","x1":0,"y1":0,"x2":0,"y2":1,"stops":[{"offset":0,"color":"#30d040"},{"offset":1,"color":"#0f7a2d"}]}},"encoding":{"x":{"datum":38,"type":"quantitative","axis":null},"y":{"datum":99,"type":"quantitative","scale":{"domain":[0,388],"range":[0,388],"nice":false},"axis":null}}},
{"transform":[{"filter":"datum.status=='Ineligible'"}],"mark":{"type":"square","size":190,"opacity":1,"color":{"gradient":"linear","x1":0,"y1":0,"x2":0,"y2":1,"stops":[{"offset":0,"color":"#f4aaa8"},{"offset":1,"color":"#c93a38"}]}},"encoding":{"x":{"datum":38,"type":"quantitative","axis":null},"y":{"datum":147,"type":"quantitative","scale":{"domain":[0,388],"range":[0,388],"nice":false},"axis":null}}},
{"transform":[{"filter":"datum.status=='Withdrawn'"}],"mark":{"type":"square","size":190,"opacity":1,"color":{"gradient":"linear","x1":0,"y1":0,"x2":0,"y2":1,"stops":[{"offset":0,"color":"#90e6f5"},{"offset":1,"color":"#30a0c0"}]}},"encoding":{"x":{"datum":38,"type":"quantitative","axis":null},"y":{"datum":195,"type":"quantitative","scale":{"domain":[0,388],"range":[0,388],"nice":false},"axis":null}}},
{"transform":[{"filter":"datum.status=='Pending (FEMA)'"}],"mark":{"type":"square","size":190,"opacity":1,"color":{"gradient":"linear","x1":0,"y1":0,"x2":0,"y2":1,"stops":[{"offset":0,"color":"#8fa0f0"},{"offset":1,"color":"#2040d0"}]}},"encoding":{"x":{"datum":38,"type":"quantitative","axis":null},"y":{"datum":243,"type":"quantitative","scale":{"domain":[0,388],"range":[0,388],"nice":false},"axis":null}}},
{"transform":[{"filter":"datum.status=='Pending (Applicant)'"}],"mark":{"type":"square","size":190,"opacity":1,"color":{"gradient":"linear","x1":0,"y1":0,"x2":0,"y2":1,"stops":[{"offset":0,"color":"#f8fb90"},{"offset":1,"color":"#dfdc10"}]}},"encoding":{"x":{"datum":38,"type":"quantitative","axis":null},"y":{"datum":291,"type":"quantitative","scale":{"domain":[0,388],"range":[0,388],"nice":false},"axis":null}}},
{"data":{"values":[{"t":"Total Referrals - 650,646"}]},"mark":{"type":"text","font":"Lato","fontWeight":"bold","fontSize":33.5,"align":"left","color":"#000000"},"encoding":{"x":{"datum":46,"type":"quantitative","axis":null},"y":{"datum":347,"type":"quantitative","scale":{"domain":[0,388],"range":[0,388],"nice":false},"axis":null},"text":{"field":"t"}}}
]},
{"width":330,"height":388,"view":{"fill":"white","stroke":null},"layer":[
{"data":{"values":[{"t":"IHP Referral Status"}]},"mark":{"type":"text","font":"Liberation Sans","fontWeight":"bold","fontSize":35,"color":"#0070c0"},"encoding":{"x":{"datum":-13,"type":"quantitative","scale":{"domain":[0,330],"range":[0,330],"nice":false},"axis":null},"y":{"datum":22,"type":"quantitative","scale":{"domain":[0,388],"range":[0,388],"nice":false},"axis":null},"text":{"field":"t"}}},
{"data":{"name":"referrals"},"transform":[{"stack":"referrals","groupby":[],"as":["s0","s1"]},{"filter":"datum.status=='Approved'"}],"mark":{"type":"arc","radius":152.5,"stroke":"white","strokeWidth":2,"fill":{"gradient":"linear","x1":0,"y1":0,"x2":0,"y2":1,"stops":[{"offset":0,"color":"#3fe04a"},{"offset":0.5,"color":"#20c838"},{"offset":1,"color":"#0f7a2d"}]}},"encoding":{"x":{"datum":165,"type":"quantitative","axis":null},"y":{"datum":212,"type":"quantitative","axis":null},"theta":{"field":"s0","type":"quantitative","scale":{"domain":[0,650646],"range":[0,6.28318]}},"theta2":{"field":"s1"}}},
{"data":{"name":"referrals"},"transform":[{"stack":"referrals","groupby":[],"as":["s0","s1"]},{"filter":"datum.status=='Ineligible'"}],"mark":{"type":"arc","radius":152.5,"stroke":"white","strokeWidth":2,"fill":{"gradient":"linear","x1":0,"y1":0,"x2":0,"y2":1,"stops":[{"offset":0,"color":"#f7b9b7"},{"offset":0.5,"color":"#e87a78"},{"offset":1,"color":"#c93a38"}]}},"encoding":{"x":{"datum":165,"type":"quantitative","axis":null},"y":{"datum":212,"type":"quantitative","axis":null},"theta":{"field":"s0","type":"quantitative"},"theta2":{"field":"s1"}}},
{"data":{"name":"referrals"},"transform":[{"stack":"referrals","groupby":[],"as":["s0","s1"]},{"filter":"datum.status=='Withdrawn'"}],"mark":{"type":"arc","radius":152.5,"stroke":"white","strokeWidth":2,"fill":{"gradient":"linear","x1":0,"y1":0,"x2":0,"y2":1,"stops":[{"offset":0,"color":"#90e6f5"},{"offset":1,"color":"#30a8c8"}]}},"encoding":{"x":{"datum":165,"type":"quantitative","axis":null},"y":{"datum":212,"type":"quantitative","axis":null},"theta":{"field":"s0","type":"quantitative"},"theta2":{"field":"s1"}}},
{"data":{"name":"referrals"},"transform":[{"stack":"referrals","groupby":[],"as":["s0","s1"]},{"filter":"datum.status=='Pending (FEMA)'"}],"mark":{"type":"arc","radius":152.5,"stroke":"white","strokeWidth":1,"fill":{"gradient":"linear","x1":0,"y1":0,"x2":0,"y2":1,"stops":[{"offset":0,"color":"#8fa0f0"},{"offset":1,"color":"#3050e0"}]}},"encoding":{"x":{"datum":165,"type":"quantitative","axis":null},"y":{"datum":212,"type":"quantitative","axis":null},"theta":{"field":"s0","type":"quantitative"},"theta2":{"field":"s1"}}},
{"data":{"name":"referrals"},"transform":[{"stack":"referrals","groupby":[],"as":["s0","s1"]},{"filter":"datum.status=='Pending (Applicant)'"}],"mark":{"type":"arc","radius":152.5,"stroke":"white","strokeWidth":2,"fill":{"gradient":"linear","x1":0,"y1":0,"x2":0,"y2":1,"stops":[{"offset":0,"color":"#f8fb90"},{"offset":1,"color":"#dfdc10"}]}},"encoding":{"x":{"datum":165,"type":"quantitative","axis":null},"y":{"datum":212,"type":"quantitative","axis":null},"theta":{"field":"s0","type":"quantitative"},"theta2":{"field":"s1"}}}
]}
]},
{"width":754,"height":358,"view":{"fill":"white","stroke":null},"resolve":{"scale":{"y":"independent"},"axis":{"x":"independent"}},"layer":[
{"data":{"values":[{"tick":0},{"tick":2000},{"tick":4000},{"tick":6000},{"tick":8000}]},"mark":{"type":"rule","color":"#b5b5b5","strokeWidth":1.2},"encoding":{"x":{"field":"tick","type":"quantitative","scale":{"domain":[0,8000],"range":[29,550],"nice":false},"axis":{"orient":"bottom","offset":-62,"title":null,"grid":false,"values":[0,2000,4000,6000,8000],"format":"$,.0f","labelFlush":false,"labelFont":"Lato","labelFontSize":22,"labelColor":"#222222","labelPadding":8,"tickColor":"#999999","tickSize":7,"domainColor":"#999999","domainWidth":2}},"y":{"datum":0,"type":"quantitative","scale":{"domain":[0,1],"range":[79,296],"nice":false},"axis":null},"y2":{"datum":1}}},
{"data":{"values":[{"t":"Average IHP Awards"}]},"mark":{"type":"text","font":"Lato","fontSize":32.3,"fontWeight":"bold","color":"#0070c0"},"encoding":{"x":{"datum":5497,"type":"quantitative","axis":null},"y":{"datum":36,"type":"quantitative","scale":{"domain":[0,358],"range":[0,358],"nice":false},"axis":null},"text":{"field":"t"}}},
{"data":{"name":"avg"},"transform":[{"filter":"datum.award=='ONA'"}],"mark":{"type":"bar","color":{"gradient":"linear","x1":0,"y1":0,"x2":0,"y2":1,"stops":[{"offset":0,"color":"#5f7f7f"},{"offset":1,"color":"#bde8e8"}]}},"encoding":{"x":{"field":"amount","type":"quantitative","axis":null},"y":{"field":"award","type":"nominal","sort":["ONA","HA","IHP"],"scale":{"domain":["ONA","HA","IHP"],"range":[112,263],"paddingInner":0.12,"paddingOuter":0.06},"axis":null}}},
{"data":{"name":"avg"},"transform":[{"filter":"datum.award=='HA'"}],"mark":{"type":"bar","color":{"gradient":"linear","x1":0,"y1":0,"x2":0,"y2":1,"stops":[{"offset":0,"color":"#5b4a96"},{"offset":1,"color":"#b0aee8"}]}},"encoding":{"x":{"field":"amount","type":"quantitative","axis":null},"y":{"field":"award","type":"nominal","sort":["ONA","HA","IHP"],"scale":{"domain":["ONA","HA","IHP"],"range":[112,263],"paddingInner":0.12,"paddingOuter":0.06},"axis":null}}},
{"data":{"name":"avg"},"transform":[{"filter":"datum.award=='IHP'"}],"mark":{"type":"bar","color":{"gradient":"linear","x1":0,"y1":0,"x2":0,"y2":1,"stops":[{"offset":0,"color":"#3a3560"},{"offset":0.45,"color":"#3f5f8f"},{"offset":1,"color":"#a0a8c8"}]}},"encoding":{"x":{"field":"amount","type":"quantitative","axis":null},"y":{"field":"award","type":"nominal","sort":["ONA","HA","IHP"],"scale":{"domain":["ONA","HA","IHP"],"range":[112,263],"paddingInner":0.12,"paddingOuter":0.06},"axis":null}}},
{"data":{"name":"avg"},"transform":[{"filter":"datum.award=='ONA'"}],"mark":{"type":"square","size":190,"opacity":1,"color":{"gradient":"linear","x1":0,"y1":0,"x2":0,"y2":1,"stops":[{"offset":0,"color":"#5f7f7f"},{"offset":1,"color":"#bde8e8"}]}},"encoding":{"x":{"datum":8393,"type":"quantitative","axis":null},"y":{"field":"award","type":"nominal","sort":["ONA","HA","IHP"],"scale":{"domain":["ONA","HA","IHP"],"range":[112,263],"paddingInner":0.12,"paddingOuter":0.06},"axis":null}}},
{"data":{"name":"avg"},"transform":[{"filter":"datum.award=='HA'"}],"mark":{"type":"square","size":190,"opacity":1,"color":{"gradient":"linear","x1":0,"y1":0,"x2":0,"y2":1,"stops":[{"offset":0,"color":"#5b4a96"},{"offset":1,"color":"#b0aee8"}]}},"encoding":{"x":{"datum":8393,"type":"quantitative","axis":null},"y":{"field":"award","type":"nominal","sort":["ONA","HA","IHP"],"scale":{"domain":["ONA","HA","IHP"],"range":[112,263],"paddingInner":0.12,"paddingOuter":0.06},"axis":null}}},
{"data":{"name":"avg"},"transform":[{"filter":"datum.award=='IHP'"}],"mark":{"type":"square","size":190,"opacity":1,"color":{"gradient":"linear","x1":0,"y1":0,"x2":0,"y2":1,"stops":[{"offset":0,"color":"#3a3560"},{"offset":1,"color":"#a0a8c8"}]}},"encoding":{"x":{"datum":8393,"type":"quantitative","axis":null},"y":{"field":"award","type":"nominal","sort":["ONA","HA","IHP"],"scale":{"domain":["ONA","HA","IHP"],"range":[112,263],"paddingInner":0.12,"paddingOuter":0.06},"axis":null}}},
{"data":{"name":"avg"},"mark":{"type":"text","font":"Lato","fontSize":22.8,"align":"left","color":"#222222"},"encoding":{"x":{"datum":8600,"type":"quantitative","axis":null},"y":{"field":"award","type":"nominal","sort":["ONA","HA","IHP"],"scale":{"domain":["ONA","HA","IHP"],"range":[112,263],"paddingInner":0.12,"paddingOuter":0.06},"axis":null},"text":{"field":"label"}}}
]}
]}
]},
{"width":2028,"height":72,"view":{"fill":"white","stroke":null},"data":{"values":[{"n":"20","t":"Total IHP Active Disasters","note":"(All information on this slide reflects data for these disasters)"}]},"layer":[
{"mark":{"type":"text","font":"Liberation Sans","fontWeight":"bold","fontSize":37.6,"align":"left","color":"#ff0000"},"encoding":{"x":{"datum":33,"type":"quantitative","scale":{"domain":[0,2029],"range":[-1,2028],"nice":false},"axis":null},"y":{"datum":33,"type":"quantitative","scale":{"domain":[0,72],"range":[0,72],"nice":false},"axis":null},"text":{"field":"n"}}},
{"mark":{"type":"text","font":"Liberation Sans","fontWeight":"bold","fontSize":37.6,"align":"left","color":"#0070c0"},"encoding":{"x":{"datum":89,"type":"quantitative","axis":null},"y":{"datum":33,"type":"quantitative","axis":null},"text":{"field":"t"}}},
{"mark":{"type":"text","font":"Liberation Sans","fontWeight":"bold","fontSize":26.6,"align":"left","color":"#0070c0"},"encoding":{"x":{"datum":563,"type":"quantitative","axis":null},"y":{"datum":36,"type":"quantitative","axis":null},"text":{"field":"note"}}}
]}
]}
]}
